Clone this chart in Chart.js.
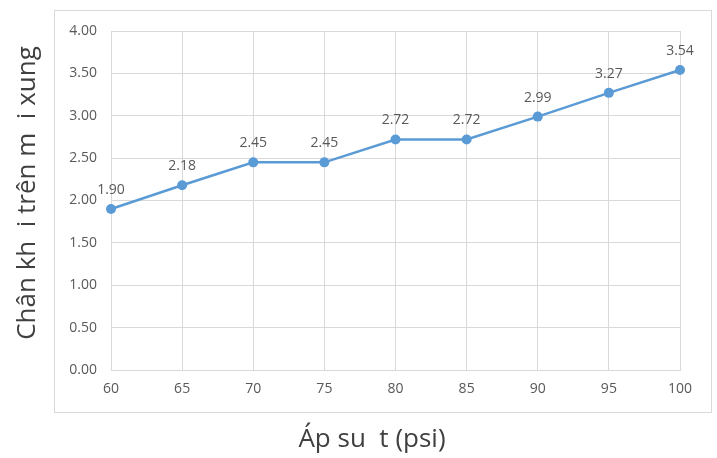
<!DOCTYPE html>
<html>
<head>
<meta charset="utf-8">
<script src="https://cdn.jsdelivr.net/npm/chart.js@4"></script>
<style>
    html, body { margin: 0; padding: 0; background: #fff; }
    #wrap { width: 717px; height: 458px; position: relative; }
</style>
</head>
<body>
<div id="wrap"><canvas id="grafico_ap_suat"></canvas></div>
<script>
// dados
const ap_suat = ['60', '65', '70', '75', '80', '85', '90', '95', '100'];
const chan_khoi = [1.90, 2.18, 2.45, 2.45, 2.72, 2.72, 2.99, 3.27, 3.54];
const ticks_y = [0, 0.5, 1, 1.5, 2, 2.5, 3, 3.5, 4];

const titulo_y = 'Chân kh  i trên m  i xung';
const titulo_x = 'Áp su  t (psi)';

const fonte = "'Open Sans', 'Noto Sans', sans-serif";

// borda, títulos dos eixos e rótulos dos pontos
const plugin_extras = {
    id: 'extras',
    afterDraw(chart) {
        const ctx = chart.ctx;
        ctx.save();
        ctx.strokeStyle = '#d9d9d9';
        ctx.lineWidth = 1;
        ctx.strokeRect(54.5, 10.5, 657, 402);

        // rótulos de dados
        const meta = chart.getDatasetMeta(0);
        ctx.fillStyle = '#595959';
        ctx.font = '14px ' + fonte;
        ctx.textAlign = 'center';
        ctx.textBaseline = 'bottom';
        meta.data.forEach(function (p, i) {
            ctx.fillText(chan_khoi[i].toFixed(2), p.x, p.y - 12);
        });

        // títulos
        ctx.fillStyle = '#404040';
        ctx.font = '26px ' + fonte;
        ctx.textBaseline = 'middle';
        ctx.fillText(titulo_x, 372, 440);
        ctx.translate(28, 193);
        ctx.rotate(-Math.PI / 2);
        ctx.fillText(titulo_y, 0, 0);
        ctx.restore();
    }
};

const config_ap_suat = {
    type: 'line',
    data: {
        labels: ap_suat,
        datasets: [{
            data: chan_khoi,
            borderColor: '#5b9bd5',
            backgroundColor: '#5b9bd5',
            borderWidth: 2.5,
            pointRadius: 5,
            pointBorderWidth: 0,
            tension: 0
        }]
    },
    options: {
        responsive: false,
        animation: false,
        layout: { padding: { left: 55, top: 31, right: 37, bottom: 58 } },
        plugins: { legend: { display: false }, tooltip: { enabled: false } },
        scales: {
            x: {
                offset: false,
                grid: { color: '#d9d9d9', drawTicks: false },
                border: { color: '#d9d9d9' },
                ticks: { color: '#595959', font: { size: 14, family: fonte }, padding: 11 },
                afterFit: function (s) { s.height = 30; }
            },
            y: {
                min: 0,
                max: 4,
                afterBuildTicks: function (s) { s.ticks = ticks_y.map(v => ({ value: v })); },
                grid: { color: '#d9d9d9', drawTicks: false },
                border: { display: false },
                ticks: {
                    color: '#595959',
                    font: { size: 14, family: fonte },
                    padding: 14,
                    callback: function (v) { return Number(v).toFixed(2); }
                },
                afterFit: function (s) { s.width = 56; }
            }
        }
    },
    plugins: [plugin_extras]
};

const canvas = document.getElementById('grafico_ap_suat');
canvas.width = 717;
canvas.height = 458;
const grafico_ap_suat = new Chart(canvas, config_ap_suat);
</script>
</body>
</html>
